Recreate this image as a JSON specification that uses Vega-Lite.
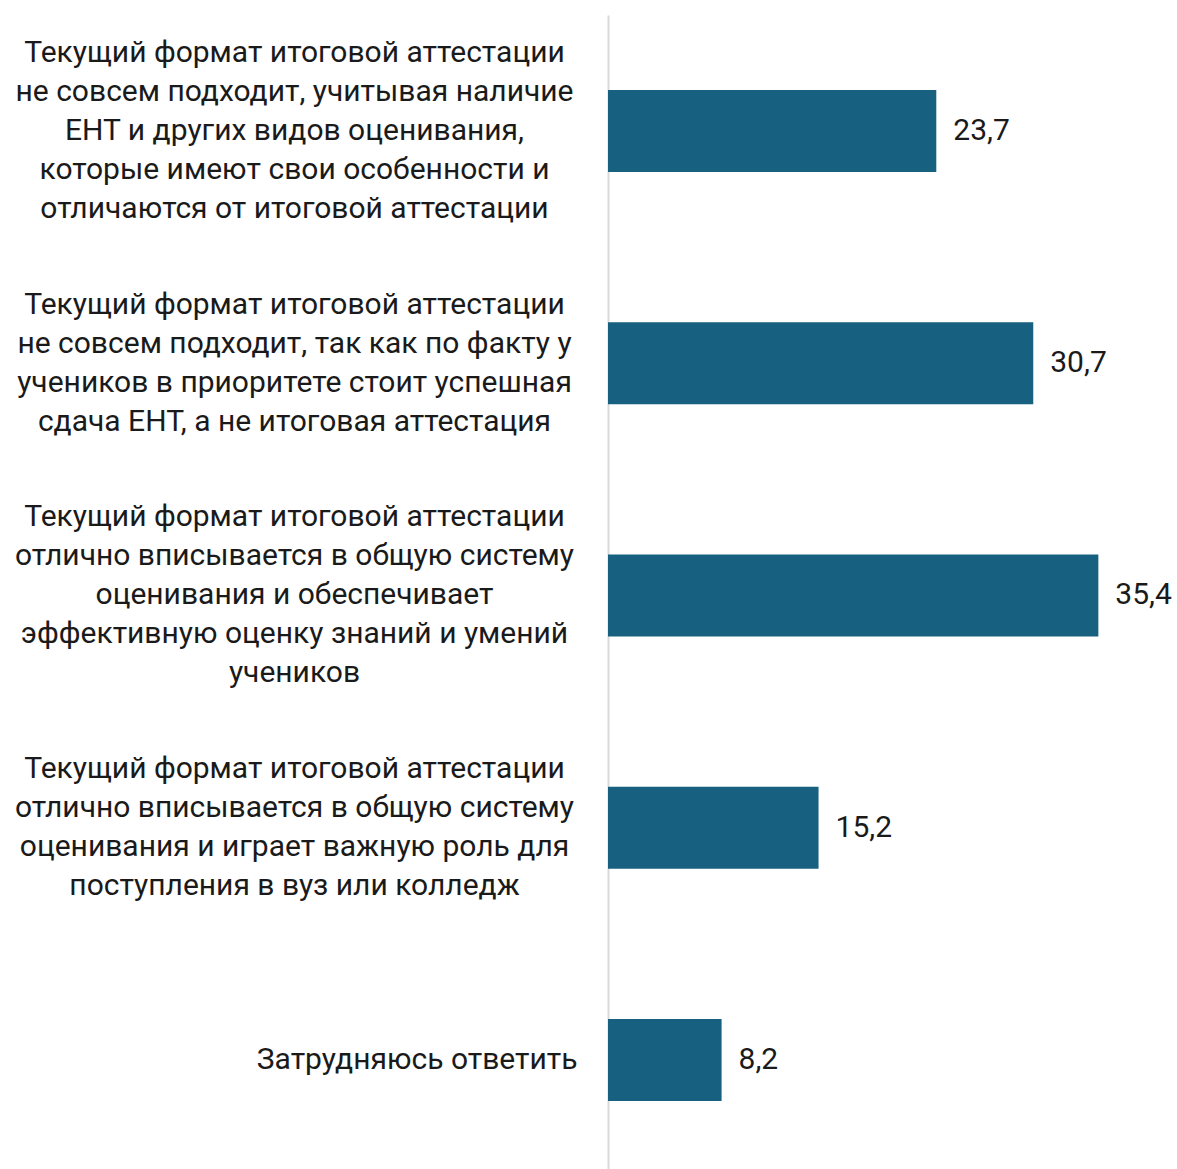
{
  "$schema": "https://vega.github.io/schema/vega-lite/v6.json",
  "width": 552,
  "height": 1154,
  "autosize": {"type": "none"},
  "padding": {"left": 608, "top": 15, "right": 17, "bottom": 0},
  "background": "white",
  "config": {
    "view": {"stroke": null},
    "locale": {"number": {"decimal": ",", "thousands": " ", "grouping": [3], "currency": ["", ""]}},
    "font": "Roboto"
  },
  "data": {
    "values": [
      {"category": "Текущий формат итоговой аттестации|не совсем подходит, учитывая наличие|ЕНТ и других видов оценивания,|которые имеют свои особенности и|отличаются от итоговой аттестации", "value": 23.7},
      {"category": "Текущий формат итоговой аттестации|не совсем подходит, так как по факту у|учеников в приоритете стоит успешная|сдача ЕНТ, а не итоговая аттестация", "value": 30.7},
      {"category": "Текущий формат итоговой аттестации|отлично вписывается в общую систему|оценивания и обеспечивает|эффективную оценку знаний и умений|учеников", "value": 35.4},
      {"category": "Текущий формат итоговой аттестации|отлично вписывается в общую систему|оценивания и играет важную роль для|поступления в вуз или колледж", "value": 15.2},
      {"category": "Затрудняюсь ответить", "value": 8.2}
    ]
  },
  "encoding": {
    "y": {
      "field": "category",
      "type": "nominal",
      "sort": null,
      "scale": {"paddingInner": 0.647, "paddingOuter": 0.308, "align": 0.524},
      "axis": {
        "title": null,
        "ticks": false,
        "domain": true,
        "domainColor": "#d9d9d9",
        "domainWidth": 2,
        "labelExpr": "split(datum.value, '|')",
        "labelFontSize": 30,
        "labelColor": "#1a1a1a",
        "labelLineHeight": 39,
        "labelLimit": 700,
        "labelAlign": {"condition": {"test": "indexof(datum.value, '|') < 0", "value": "right"}, "value": "center"},
        "labelPadding": {"condition": {"test": "indexof(datum.value, '|') < 0", "value": 31}, "value": 314},
        "labelOffset": {"condition": [
          {"test": "length(split(datum.value, '|')) == 5", "value": -78},
          {"test": "length(split(datum.value, '|')) == 4", "value": -58.5}
        ], "value": 0}
      }
    },
    "x": {
      "field": "value",
      "type": "quantitative",
      "scale": {"domain": [0, 39.85]},
      "axis": null
    }
  },
  "layer": [
    {"mark": {"type": "bar", "color": "#17607f"}},
    {
      "mark": {"type": "text", "align": "left", "dx": 17, "fontSize": 30, "color": "#1a1a1a", "baseline": "middle"},
      "encoding": {"text": {"field": "value", "type": "quantitative", "format": ".1f"}}
    }
  ]
}
